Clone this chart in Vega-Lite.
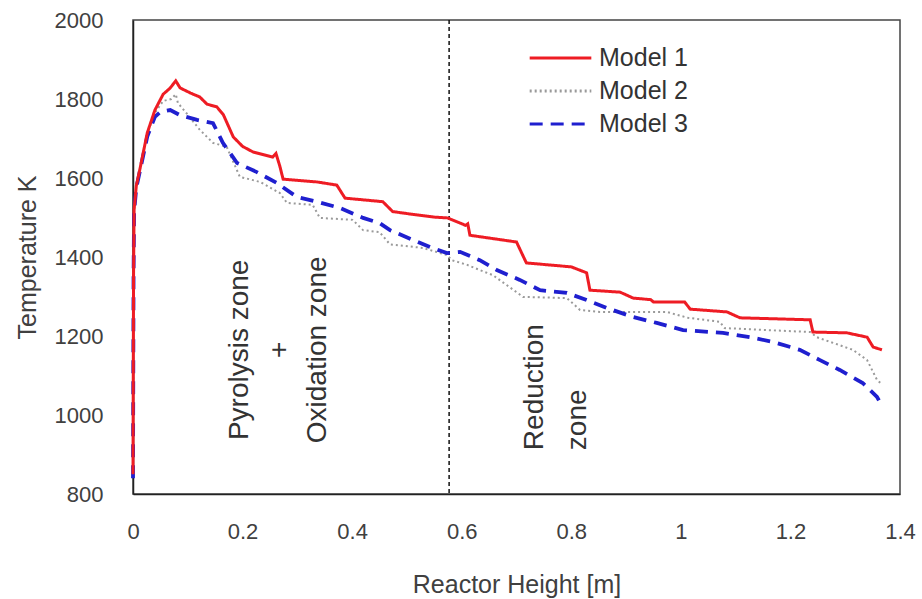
{
  "$schema": "https://vega.github.io/schema/vega-lite/v6.json",
  "width": 767,
  "height": 474,
  "autosize": {"type": "none"},
  "padding": {"left": 133, "top": 20, "right": 22, "bottom": 105},
  "background": "white",
  "config": {
    "font": "Liberation Sans",
    "view": {"stroke": "#444444", "strokeWidth": 1.5},
    "axis": {"grid": false, "ticks": false, "domainColor": "#222222", "domainWidth": 1.5, "labelColor": "#404040", "titleColor": "#404040", "labelFont": "Liberation Sans", "titleFont": "Liberation Sans", "titleFontWeight": "normal"}
  },
  "datasets": {
    "series": [
      {"model": "Model 1", "h": 0, "t": 850}, {"model": "Model 1", "h": 0.001, "t": 1350}, {"model": "Model 1", "h": 0.002, "t": 1520}, {"model": "Model 1", "h": 0.006, "t": 1580}, {"model": "Model 1", "h": 0.013, "t": 1625}, {"model": "Model 1", "h": 0.026, "t": 1714}, {"model": "Model 1", "h": 0.04, "t": 1772}, {"model": "Model 1", "h": 0.055, "t": 1812}, {"model": "Model 1", "h": 0.068, "t": 1828}, {"model": "Model 1", "h": 0.078, "t": 1846}, {"model": "Model 1", "h": 0.086, "t": 1828}, {"model": "Model 1", "h": 0.105, "t": 1815}, {"model": "Model 1", "h": 0.122, "t": 1805}, {"model": "Model 1", "h": 0.135, "t": 1787}, {"model": "Model 1", "h": 0.153, "t": 1780}, {"model": "Model 1", "h": 0.165, "t": 1760}, {"model": "Model 1", "h": 0.183, "t": 1704}, {"model": "Model 1", "h": 0.2, "t": 1680}, {"model": "Model 1", "h": 0.219, "t": 1666}, {"model": "Model 1", "h": 0.255, "t": 1653}, {"model": "Model 1", "h": 0.261, "t": 1662}, {"model": "Model 1", "h": 0.268, "t": 1630}, {"model": "Model 1", "h": 0.274, "t": 1597}, {"model": "Model 1", "h": 0.336, "t": 1590}, {"model": "Model 1", "h": 0.372, "t": 1582}, {"model": "Model 1", "h": 0.387, "t": 1549}, {"model": "Model 1", "h": 0.456, "t": 1540}, {"model": "Model 1", "h": 0.474, "t": 1515}, {"model": "Model 1", "h": 0.51, "t": 1508}, {"model": "Model 1", "h": 0.55, "t": 1501}, {"model": "Model 1", "h": 0.574, "t": 1499}, {"model": "Model 1", "h": 0.597, "t": 1486}, {"model": "Model 1", "h": 0.607, "t": 1480}, {"model": "Model 1", "h": 0.611, "t": 1484}, {"model": "Model 1", "h": 0.615, "t": 1455}, {"model": "Model 1", "h": 0.7, "t": 1438}, {"model": "Model 1", "h": 0.718, "t": 1385}, {"model": "Model 1", "h": 0.8, "t": 1375}, {"model": "Model 1", "h": 0.828, "t": 1360}, {"model": "Model 1", "h": 0.834, "t": 1316}, {"model": "Model 1", "h": 0.889, "t": 1311}, {"model": "Model 1", "h": 0.913, "t": 1296}, {"model": "Model 1", "h": 0.945, "t": 1292}, {"model": "Model 1", "h": 0.95, "t": 1286}, {"model": "Model 1", "h": 1.007, "t": 1286}, {"model": "Model 1", "h": 1.017, "t": 1268}, {"model": "Model 1", "h": 1.084, "t": 1261}, {"model": "Model 1", "h": 1.108, "t": 1246}, {"model": "Model 1", "h": 1.236, "t": 1241}, {"model": "Model 1", "h": 1.241, "t": 1210}, {"model": "Model 1", "h": 1.303, "t": 1208}, {"model": "Model 1", "h": 1.34, "t": 1197}, {"model": "Model 1", "h": 1.351, "t": 1172}, {"model": "Model 1", "h": 1.367, "t": 1165},
      {"model": "Model 2", "h": 0, "t": 850}, {"model": "Model 2", "h": 0.001, "t": 1350}, {"model": "Model 2", "h": 0.002, "t": 1520}, {"model": "Model 2", "h": 0.006, "t": 1580}, {"model": "Model 2", "h": 0.013, "t": 1625}, {"model": "Model 2", "h": 0.026, "t": 1712}, {"model": "Model 2", "h": 0.04, "t": 1765}, {"model": "Model 2", "h": 0.055, "t": 1795}, {"model": "Model 2", "h": 0.07, "t": 1800}, {"model": "Model 2", "h": 0.078, "t": 1812}, {"model": "Model 2", "h": 0.082, "t": 1790}, {"model": "Model 2", "h": 0.1, "t": 1760}, {"model": "Model 2", "h": 0.122, "t": 1722}, {"model": "Model 2", "h": 0.146, "t": 1689}, {"model": "Model 2", "h": 0.171, "t": 1679}, {"model": "Model 2", "h": 0.195, "t": 1603}, {"model": "Model 2", "h": 0.232, "t": 1590}, {"model": "Model 2", "h": 0.268, "t": 1562}, {"model": "Model 2", "h": 0.281, "t": 1537}, {"model": "Model 2", "h": 0.328, "t": 1532}, {"model": "Model 2", "h": 0.341, "t": 1499}, {"model": "Model 2", "h": 0.401, "t": 1494}, {"model": "Model 2", "h": 0.42, "t": 1468}, {"model": "Model 2", "h": 0.45, "t": 1463}, {"model": "Model 2", "h": 0.469, "t": 1432}, {"model": "Model 2", "h": 0.529, "t": 1423}, {"model": "Model 2", "h": 0.573, "t": 1405}, {"model": "Model 2", "h": 0.582, "t": 1392}, {"model": "Model 2", "h": 0.61, "t": 1380}, {"model": "Model 2", "h": 0.633, "t": 1367}, {"model": "Model 2", "h": 0.657, "t": 1354}, {"model": "Model 2", "h": 0.682, "t": 1329}, {"model": "Model 2", "h": 0.712, "t": 1299}, {"model": "Model 2", "h": 0.792, "t": 1296}, {"model": "Model 2", "h": 0.816, "t": 1266}, {"model": "Model 2", "h": 0.852, "t": 1261}, {"model": "Model 2", "h": 0.974, "t": 1261}, {"model": "Model 2", "h": 1.013, "t": 1246}, {"model": "Model 2", "h": 1.071, "t": 1236}, {"model": "Model 2", "h": 1.08, "t": 1220}, {"model": "Model 2", "h": 1.236, "t": 1210}, {"model": "Model 2", "h": 1.248, "t": 1197}, {"model": "Model 2", "h": 1.314, "t": 1165}, {"model": "Model 2", "h": 1.34, "t": 1139}, {"model": "Model 2", "h": 1.358, "t": 1089}, {"model": "Model 2", "h": 1.365, "t": 1080},
      {"model": "Model 3", "h": 0, "t": 840}, {"model": "Model 3", "h": 0.001, "t": 1350}, {"model": "Model 3", "h": 0.002, "t": 1515}, {"model": "Model 3", "h": 0.006, "t": 1575}, {"model": "Model 3", "h": 0.013, "t": 1620}, {"model": "Model 3", "h": 0.026, "t": 1705}, {"model": "Model 3", "h": 0.04, "t": 1755}, {"model": "Model 3", "h": 0.05, "t": 1767}, {"model": "Model 3", "h": 0.068, "t": 1772}, {"model": "Model 3", "h": 0.086, "t": 1759}, {"model": "Model 3", "h": 0.117, "t": 1747}, {"model": "Model 3", "h": 0.146, "t": 1739}, {"model": "Model 3", "h": 0.164, "t": 1689}, {"model": "Model 3", "h": 0.19, "t": 1638}, {"model": "Model 3", "h": 0.226, "t": 1615}, {"model": "Model 3", "h": 0.263, "t": 1587}, {"model": "Model 3", "h": 0.299, "t": 1552}, {"model": "Model 3", "h": 0.336, "t": 1540}, {"model": "Model 3", "h": 0.378, "t": 1524}, {"model": "Model 3", "h": 0.42, "t": 1499}, {"model": "Model 3", "h": 0.45, "t": 1486}, {"model": "Model 3", "h": 0.469, "t": 1468}, {"model": "Model 3", "h": 0.511, "t": 1443}, {"model": "Model 3", "h": 0.542, "t": 1425}, {"model": "Model 3", "h": 0.573, "t": 1410}, {"model": "Model 3", "h": 0.597, "t": 1413}, {"model": "Model 3", "h": 0.633, "t": 1392}, {"model": "Model 3", "h": 0.664, "t": 1367}, {"model": "Model 3", "h": 0.706, "t": 1342}, {"model": "Model 3", "h": 0.743, "t": 1316}, {"model": "Model 3", "h": 0.792, "t": 1309}, {"model": "Model 3", "h": 0.828, "t": 1291}, {"model": "Model 3", "h": 0.865, "t": 1271}, {"model": "Model 3", "h": 0.913, "t": 1248}, {"model": "Model 3", "h": 0.956, "t": 1233}, {"model": "Model 3", "h": 1.004, "t": 1215}, {"model": "Model 3", "h": 1.077, "t": 1208}, {"model": "Model 3", "h": 1.126, "t": 1197}, {"model": "Model 3", "h": 1.168, "t": 1185}, {"model": "Model 3", "h": 1.217, "t": 1165}, {"model": "Model 3", "h": 1.254, "t": 1139}, {"model": "Model 3", "h": 1.29, "t": 1114}, {"model": "Model 3", "h": 1.332, "t": 1081}, {"model": "Model 3", "h": 1.358, "t": 1046}, {"model": "Model 3", "h": 1.363, "t": 1033}
    ]
  },
  "layer": [
    {
      "data": {"values": [{"h": 0.577}]},
      "mark": {"type": "rule", "color": "#111111", "strokeWidth": 1.5, "strokeDash": [4, 3]},
      "encoding": {"x": {"field": "h", "type": "quantitative", "scale": {"domain": [0, 1.4]},
          "axis": {"title": "Reactor Height [m]", "values": [0, 0.2, 0.4, 0.6, 0.8, 1, 1.2, 1.4], "format": "~g", "labelFontSize": 22, "titleFontSize": 25, "labelPadding": 27, "titlePadding": 30, "labelFlush": false}}}
    },
    {
      "data": {"name": "series"},
      "transform": [{"filter": "datum.model === 'Model 2'"}],
      "mark": {"type": "line", "strokeWidth": 2},
      "encoding": {
        "x": {"field": "h", "type": "quantitative"},
        "y": {"field": "t", "type": "quantitative", "scale": {"domain": [800, 2000]},
          "axis": {"title": "Temperature K", "values": [800, 1000, 1200, 1400, 1600, 1800, 2000], "format": "d", "labelFontSize": 22, "titleFontSize": 25, "labelPadding": 30, "titlePadding": 14}},
        "color": {"field": "model", "type": "nominal", "title": null,
          "scale": {"domain": ["Model 1", "Model 2", "Model 3"], "range": ["#ee1c24", "#9a9a9a", "#1f1fcf"]},
          "legend": {"orient": "none", "legendX": 395, "legendY": 23, "symbolType": "stroke", "symbolSize": 3800, "symbolStrokeWidth": 3, "labelFontSize": 25, "labelColor": "#333333", "labelFont": "Liberation Sans", "clipHeight": 30, "rowPadding": 3, "labelOffset": 6}},
        "strokeDash": {"field": "model", "type": "nominal", "title": null,
          "scale": {"domain": ["Model 1", "Model 2", "Model 3"], "range": [[1, 0], [2, 3], [13, 8]]}},
        "order": {"field": "h", "type": "quantitative"}
      }
    },
    {
      "data": {"name": "series"},
      "transform": [{"filter": "datum.model === 'Model 3'"}],
      "mark": {"type": "line", "strokeWidth": 3.8},
      "encoding": {
        "x": {"field": "h", "type": "quantitative"},
        "y": {"field": "t", "type": "quantitative"},
        "color": {"field": "model", "type": "nominal", "title": null},
        "strokeDash": {"field": "model", "type": "nominal", "title": null},
        "order": {"field": "h", "type": "quantitative"}
      }
    },
    {
      "data": {"name": "series"},
      "transform": [{"filter": "datum.model === 'Model 1'"}],
      "mark": {"type": "line", "strokeWidth": 3},
      "encoding": {
        "x": {"field": "h", "type": "quantitative"},
        "y": {"field": "t", "type": "quantitative"},
        "color": {"field": "model", "type": "nominal", "title": null},
        "strokeDash": {"field": "model", "type": "nominal", "title": null},
        "order": {"field": "h", "type": "quantitative"}
      }
    },
    {
      "data": {"values": [
        {"h": 0.195, "t": 1165, "label": "Pyrolysis zone"},
        {"h": 0.268, "t": 1165, "label": "+"},
        {"h": 0.338, "t": 1165, "label": "Oxidation zone"}
      ]},
      "mark": {"type": "text", "angle": 270, "align": "center", "baseline": "middle", "fontSize": 28, "color": "#333333", "font": "Liberation Sans"},
      "encoding": {
        "x": {"field": "h", "type": "quantitative"},
        "y": {"field": "t", "type": "quantitative"},
        "text": {"field": "label"}
      }
    },
    {
      "data": {"values": [
        {"h": 0.734, "t": 911, "label": "Reduction"},
        {"h": 0.812, "t": 911, "label": "zone"}
      ]},
      "mark": {"type": "text", "angle": 270, "align": "left", "baseline": "middle", "fontSize": 28, "color": "#333333", "font": "Liberation Sans"},
      "encoding": {
        "x": {"field": "h", "type": "quantitative"},
        "y": {"field": "t", "type": "quantitative"},
        "text": {"field": "label"}
      }
    }
  ]
}
